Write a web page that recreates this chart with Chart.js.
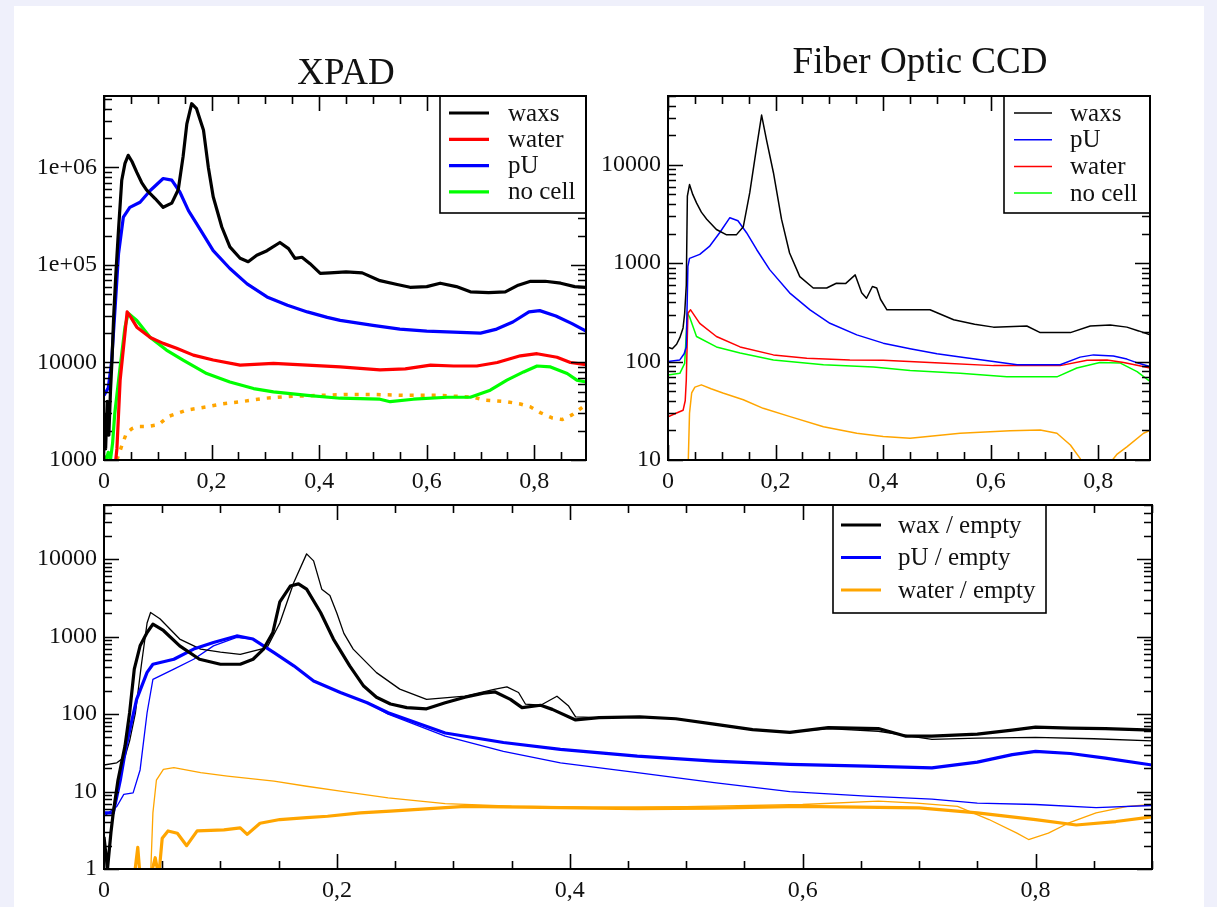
<!DOCTYPE html>
<html>
<head>
<meta charset="utf-8">
<title>XPAD / Fiber Optic CCD</title>
<script src="https://cdn.jsdelivr.net/npm/chart.js@4.4.1/dist/chart.umd.min.js"></script>
<style>
  body { margin: 0; background: #eff0fb; width: 1217px; height: 907px; overflow: hidden; position: relative; }
  #sheet { position: absolute; left: 14px; top: 6px; width: 1190px; height: 901px; background: #fff; }
  canvas { position: absolute; }
</style>
</head>
<body>
<div id="sheet"></div>
<canvas id="xpad" width="608" height="500" style="left:0;top:0"></canvas>
<canvas id="ccd" width="657" height="500" style="left:560px;top:0"></canvas>
<canvas id="ratio" width="1217" height="427" style="left:0;top:480px"></canvas>
<script>
// tick values and labels
const qTicks = [0, 0.2, 0.4, 0.6, 0.8];
const qTickLabels = ['0', '0,2', '0,4', '0,6', '0,8'];
const xpadTicks = [1e3, 1e4, 1e5, 1e6];
const xpadTickLabels = ['1000', '10000', '1e+05', '1e+06'];
const ccdTicks = [10, 100, 1000, 10000];
const ccdTickLabels = ['10', '100', '1000', '10000'];
const ratioTicks = [1, 10, 100, 1000, 10000];
const ratioTickLabels = ['1', '10', '100', '1000', '10000'];

// XPAD panel
const xpadWaxsQ = [0, 0.003, 0.006, 0.009, 0.012, 0.015, 0.018, 0.022, 0.027, 0.033, 0.039, 0.045, 0.052, 0.061, 0.070, 0.079, 0.095, 0.110, 0.126, 0.138, 0.147, 0.154, 0.163, 0.172, 0.185, 0.194, 0.203, 0.219, 0.234, 0.253, 0.268, 0.284, 0.303, 0.327, 0.343, 0.355, 0.368, 0.383, 0.402, 0.420, 0.450, 0.480, 0.513, 0.545, 0.569, 0.600, 0.625, 0.655, 0.681, 0.715, 0.746, 0.770, 0.793, 0.820, 0.849, 0.875, 0.896];
const xpadWaxs = [3000, 1300, 4000, 1800, 5000, 1.1e4, 3e4, 8e4, 2.3e5, 7.4e5, 1.1e6, 1.33e6, 1.15e6, 8.9e5, 7e5, 5.9e5, 4.8e5, 3.9e5, 4.3e5, 5.9e5, 1.29e6, 2.8e6, 4.5e6, 4e6, 2.4e6, 1e6, 5e5, 2.45e5, 1.53e5, 1.17e5, 1.08e5, 1.26e5, 1.4e5, 1.7e5, 1.47e5, 1.17e5, 1.2e5, 1.03e5, 8.2e4, 8.3e4, 8.5e4, 8.3e4, 6.9e4, 6.3e4, 5.9e4, 6e4, 6.5e4, 6e4, 5.3e4, 5.2e4, 5.3e4, 6.2e4, 6.8e4, 6.8e4, 6.5e4, 6e4, 5.9e4];
const xpadPuQ = [0, 0.008, 0.014, 0.020, 0.027, 0.036, 0.048, 0.067, 0.086, 0.110, 0.126, 0.141, 0.157, 0.179, 0.203, 0.234, 0.266, 0.303, 0.341, 0.378, 0.415, 0.439, 0.500, 0.550, 0.600, 0.650, 0.700, 0.730, 0.760, 0.790, 0.810, 0.840, 0.870, 0.896];
const xpadPu = [4600, 5500, 1e4, 3.2e4, 1.3e5, 3.1e5, 3.9e5, 4.4e5, 5.8e5, 7.7e5, 7.4e5, 5.6e5, 3.6e5, 2.3e5, 1.4e5, 9.2e4, 6.4e4, 4.7e4, 3.86e4, 3.3e4, 2.9e4, 2.7e4, 2.4e4, 2.2e4, 2.1e4, 2.05e4, 2e4, 2.2e4, 2.6e4, 3.3e4, 3.4e4, 3e4, 2.5e4, 2.1e4];
const xpadWaterQ = [0.020, 0.024, 0.030, 0.039, 0.043, 0.050, 0.061, 0.086, 0.110, 0.135, 0.166, 0.203, 0.253, 0.315, 0.378, 0.439, 0.513, 0.560, 0.607, 0.650, 0.693, 0.731, 0.774, 0.805, 0.842, 0.867, 0.896];
const xpadWater = [800, 1300, 6600, 2e4, 3.3e4, 2.9e4, 2.3e4, 1.8e4, 1.57e4, 1.4e4, 1.19e4, 1.06e4, 9400, 9800, 9400, 9000, 8400, 8600, 9400, 9200, 9200, 1e4, 1.17e4, 1.23e4, 1.13e4, 1e4, 9500];
const xpadNoCellQ = [0, 0.004, 0.008, 0.012, 0.016, 0.020, 0.030, 0.039, 0.045, 0.061, 0.086, 0.116, 0.147, 0.191, 0.234, 0.278, 0.315, 0.378, 0.439, 0.513, 0.532, 0.575, 0.638, 0.681, 0.718, 0.749, 0.780, 0.805, 0.830, 0.861, 0.879, 0.896];
const xpadNoCell = [1100, 1000, 1200, 1000, 1500, 3000, 9000, 2.3e4, 3.2e4, 2.7e4, 1.8e4, 1.34e4, 1.06e4, 7700, 6300, 5400, 5000, 4600, 4300, 4200, 3960, 4200, 4400, 4400, 5200, 6600, 8000, 9200, 9000, 7700, 6600, 6300];
const xpadOrangeQ = [0.024, 0.033, 0.042, 0.052, 0.061, 0.080, 0.101, 0.120, 0.154, 0.190, 0.219, 0.260, 0.300, 0.350, 0.400, 0.450, 0.500, 0.563, 0.625, 0.687, 0.709, 0.749, 0.774, 0.793, 0.811, 0.833, 0.852, 0.870, 0.896];
const xpadOrange = [1000, 1400, 1900, 2100, 2200, 2200, 2300, 2800, 3250, 3500, 3750, 4000, 4300, 4500, 4600, 4700, 4700, 4600, 4600, 4400, 4100, 3960, 3750, 3500, 3060, 2700, 2600, 2900, 3700];

// Fiber Optic CCD panel
const ccdWaxsQ = [0, 0.008, 0.016, 0.022, 0.028, 0.031, 0.034, 0.036, 0.040, 0.046, 0.053, 0.062, 0.072, 0.090, 0.109, 0.127, 0.140, 0.152, 0.165, 0.174, 0.183, 0.196, 0.211, 0.226, 0.245, 0.270, 0.295, 0.313, 0.330, 0.348, 0.360, 0.369, 0.380, 0.388, 0.395, 0.407, 0.440, 0.487, 0.531, 0.570, 0.605, 0.667, 0.692, 0.748, 0.785, 0.822, 0.853, 0.875, 0.896];
const ccdWaxs = [140, 135, 150, 175, 220, 310, 600, 4800, 6300, 5000, 4100, 3300, 2800, 2200, 1940, 1940, 2350, 5200, 15500, 32000, 18000, 8300, 2800, 1270, 730, 560, 560, 625, 620, 760, 500, 440, 580, 560, 430, 336, 336, 336, 266, 240, 224, 230, 197, 197, 230, 235, 224, 205, 187];
const ccdPuQ = [0, 0.022, 0.030, 0.034, 0.037, 0.040, 0.059, 0.077, 0.096, 0.115, 0.130, 0.146, 0.165, 0.189, 0.226, 0.264, 0.301, 0.351, 0.400, 0.450, 0.500, 0.550, 0.605, 0.649, 0.729, 0.766, 0.791, 0.828, 0.853, 0.875, 0.896];
const ccdPu = [100, 104, 120, 141, 930, 1120, 1230, 1480, 2040, 2900, 2700, 2040, 1370, 860, 500, 336, 245, 187, 154, 135, 120, 110, 100, 93, 93, 111, 117, 114, 106, 96, 89];
const ccdWaterQ = [0, 0.016, 0.028, 0.032, 0.034, 0.037, 0.042, 0.059, 0.090, 0.134, 0.196, 0.258, 0.338, 0.400, 0.506, 0.605, 0.729, 0.779, 0.816, 0.847, 0.872, 0.896];
const ccdWater = [27.5, 30, 32, 40, 65, 310, 336, 245, 180, 141, 117, 108, 104, 103, 97, 91, 91, 103, 104, 98, 92, 86];
const ccdNoCellQ = [0, 0.022, 0.031, 0.036, 0.040, 0.053, 0.090, 0.134, 0.196, 0.289, 0.382, 0.450, 0.543, 0.630, 0.723, 0.760, 0.803, 0.840, 0.872, 0.896];
const ccdNoCell = [73, 76, 96, 310, 285, 180, 141, 122, 104, 93, 88, 81, 76, 70, 70, 86, 98, 97, 79, 63];
const ccdOrangeQ = [0.037, 0.040, 0.044, 0.050, 0.062, 0.080, 0.102, 0.140, 0.177, 0.227, 0.289, 0.351, 0.400, 0.450, 0.543, 0.636, 0.692, 0.723, 0.748, 0.766, 0.775, 0.790, 0.812, 0.835, 0.853, 0.884, 0.896];
const ccdOrange = [7, 30, 48, 55, 58, 53, 48, 41, 33.5, 27.6, 21.8, 18.7, 17.3, 16.6, 18.7, 19.8, 20.2, 18.7, 14.2, 10.4, 8, null, 8, 11.5, 13.6, 18.7, 20];

// ratio panel: thick = XPAD, thin = CCD
const waxXpadQ = [0, 0.003, 0.006, 0.008, 0.012, 0.018, 0.022, 0.026, 0.031, 0.037, 0.042, 0.051, 0.065, 0.082, 0.100, 0.117, 0.128, 0.137, 0.145, 0.151, 0.160, 0.167, 0.174, 0.186, 0.197, 0.211, 0.223, 0.234, 0.246, 0.260, 0.277, 0.293, 0.310, 0.326, 0.336, 0.349, 0.359, 0.375, 0.385, 0.405, 0.425, 0.460, 0.491, 0.524, 0.557, 0.589, 0.622, 0.665, 0.688, 0.711, 0.750, 0.780, 0.800, 0.830, 0.860, 0.900];
const waxXpad = [2.6, 1, 3, 5.4, 14, 38.5, 104, 380, 760, 1130, 1450, 1200, 760, 510, 440, 440, 510, 690, 1130, 2800, 4500, 4800, 4100, 2050, 930, 420, 230, 165, 135, 121, 117, 140, 165, 186, 193, 155, 121, 130, 115, 84, 90, 92, 87, 74, 63, 58, 67, 65, 52, 52, 55, 62, 68, 66, 65, 62];
const waxCcdQ = [0, 0.011, 0.018, 0.022, 0.027, 0.032, 0.037, 0.040, 0.048, 0.065, 0.083, 0.100, 0.117, 0.128, 0.140, 0.151, 0.163, 0.174, 0.180, 0.187, 0.194, 0.200, 0.206, 0.214, 0.234, 0.254, 0.277, 0.310, 0.336, 0.346, 0.356, 0.362, 0.375, 0.389, 0.399, 0.405, 0.425, 0.460, 0.491, 0.524, 0.557, 0.589, 0.622, 0.665, 0.711, 0.750, 0.800, 0.850, 0.900];
const waxCcd = [22, 23.5, 28, 45, 104, 420, 1500, 2050, 1700, 930, 690, 630, 590, 650, 720, 1500, 5000, 11700, 9500, 4100, 3400, 2000, 1100, 690, 343, 210, 155, 170, 210, 225, 190, 134, 130, 170, 127, 92, 90, 92, 87, 74, 63, 58, 65, 60, 47, 49, 50, 48, 45];
const puXpadQ = [0, 0.008, 0.014, 0.019, 0.028, 0.037, 0.042, 0.060, 0.077, 0.094, 0.114, 0.128, 0.146, 0.163, 0.180, 0.203, 0.226, 0.244, 0.293, 0.343, 0.392, 0.458, 0.524, 0.589, 0.655, 0.711, 0.750, 0.780, 0.800, 0.830, 0.860, 0.900];
const puXpad = [5.3, 5.3, 14, 38.5, 155, 345, 440, 510, 690, 840, 1020, 930, 620, 420, 268, 190, 140, 104, 57, 43, 35, 28.6, 24.7, 22.4, 21.3, 20.2, 24, 30, 33, 31, 27, 22];
const puCcdQ = [0, 0.011, 0.017, 0.025, 0.031, 0.037, 0.042, 0.060, 0.077, 0.094, 0.114, 0.128, 0.146, 0.163, 0.180, 0.203, 0.226, 0.244, 0.293, 0.343, 0.392, 0.458, 0.524, 0.589, 0.655, 0.711, 0.750, 0.800, 0.852, 0.900];
const puCcd = [4.8, 6.4, 9.2, 9.6, 19, 104, 280, 380, 510, 760, 980, 930, 620, 420, 268, 190, 140, 100, 52, 33, 23.5, 17.5, 13, 10, 8.7, 8, 7.1, 6.8, 6.2, 6.6];
const waterXpadQ = [0.026, 0.029, 0.031, 0.034, 0.040, 0.044, 0.047, 0.050, 0.055, 0.063, 0.071, 0.080, 0.103, 0.117, 0.123, 0.134, 0.151, 0.174, 0.192, 0.220, 0.246, 0.310, 0.392, 0.458, 0.524, 0.597, 0.700, 0.750, 0.800, 0.835, 0.869, 0.900];
const waterXpad = [0.8, 1.9, 0.8, 0.9, 0.8, 1.4, 0.8, 2.5, 3.1, 2.9, 2, 3.1, 3.2, 3.4, 2.8, 3.9, 4.35, 4.6, 4.8, 5.3, 5.6, 6.45, 6.2, 6, 6.1, 6.45, 6.15, 5.3, 4.35, 3.7, 4.1, 4.7];
const waterCcdQ = [0.040, 0.042, 0.045, 0.051, 0.060, 0.083, 0.106, 0.146, 0.174, 0.203, 0.244, 0.293, 0.350, 0.420, 0.500, 0.600, 0.665, 0.698, 0.733, 0.760, 0.784, 0.794, 0.811, 0.828, 0.852, 0.879, 0.900];
const waterCcd = [0.8, 5.3, 14, 19.3, 20.3, 17.5, 15.8, 13.6, 11.7, 10.1, 8.3, 7, 6.5, 6.3, 6.4, 6.8, 7.5, 7.1, 6.45, 4.35, 2.9, 2.4, 2.9, 3.9, 5.3, 6.45, 6.8];

const SERIF = "'Liberation Serif', 'Times New Roman', serif";
const tickFont = { family: SERIF, size: 24 };

function series(label, q, v, color, width, extra) {
  return Object.assign({
    label: label,
    data: q.map((x, i) => ({ x: x, y: v[i] })),
    borderColor: color,
    borderWidth: width,
    pointRadius: 0,
    tension: 0,
    borderJoinStyle: 'round',
    spanGaps: false
  }, extra || {});
}

// xmgrace style frame: inward ticks on all four sides, title, boxed legend
const gracePlugin = {
  id: 'grace',
  afterDraw(chart, args, o) {
    const { ctx, chartArea: a } = chart;
    const x = chart.scales.x, y = chart.scales.y;
    ctx.save();
    ctx.strokeStyle = '#000';
    ctx.lineWidth = 1.6;
    ctx.beginPath();
    for (let k = 0; k * 0.05 <= x.max + 1e-9; k++) {
      const px = Math.round(x.getPixelForValue(k * 0.05)) + 0.5;
      const len = k % 4 === 0 ? 15 : 8;
      ctx.moveTo(px, a.bottom); ctx.lineTo(px, a.bottom - len);
      ctx.moveTo(px, a.top); ctx.lineTo(px, a.top + len);
    }
    for (let e = Math.floor(Math.log10(y.min)); e <= Math.ceil(Math.log10(y.max)); e++) {
      for (let m = 1; m < 10; m++) {
        const v = m * Math.pow(10, e);
        if (v < y.min * 0.999 || v > y.max) continue;
        const py = Math.round(y.getPixelForValue(v)) + 0.5;
        const len = m === 1 ? 15 : 8;
        ctx.moveTo(a.left, py); ctx.lineTo(a.left + len, py);
        ctx.moveTo(a.right, py); ctx.lineTo(a.right - len, py);
      }
    }
    ctx.stroke();

    if (o.legend) {
      const L = o.legend;
      ctx.fillStyle = '#fff';
      ctx.fillRect(L.box[0], L.box[1], L.box[2] - L.box[0], L.box[3] - L.box[1]);
      ctx.lineWidth = 1.6;
      ctx.strokeRect(L.box[0], L.box[1], L.box[2] - L.box[0], L.box[3] - L.box[1]);
      ctx.font = '25px ' + SERIF;
      ctx.textBaseline = 'middle';
      ctx.textAlign = 'left';
      L.items.forEach((di, i) => {
        const ds = chart.data.datasets[di];
        const ry = L.rowY + i * L.rowStep;
        ctx.strokeStyle = ds.borderColor;
        ctx.lineWidth = ds.borderWidth;
        ctx.beginPath();
        ctx.moveTo(L.lineX[0], ry); ctx.lineTo(L.lineX[1], ry);
        ctx.stroke();
        ctx.fillStyle = '#111';
        ctx.fillText(ds.label, L.textX, ry + 1);
      });
    }

    ctx.strokeStyle = '#000';
    ctx.lineWidth = 2;
    ctx.strokeRect(a.left, a.top, a.right - a.left, a.bottom - a.top);

    if (o.title) {
      ctx.fillStyle = '#111';
      ctx.font = '37px ' + SERIF;
      ctx.textAlign = 'center';
      ctx.textBaseline = 'alphabetic';
      ctx.fillText(o.title, o.titleX, o.titleY);
    }
    ctx.restore();
  }
};

function makeChart(id, cfg) {
  return new Chart(document.getElementById(id), {
    type: 'line',
    data: { datasets: cfg.datasets },
    options: {
      responsive: false,
      animation: false,
      devicePixelRatio: 1,
      layout: { padding: cfg.padding },
      plugins: { legend: { display: false }, tooltip: { enabled: false }, grace: cfg.grace },
      scales: {
        x: {
          type: 'linear', min: 0, max: cfg.qMax,
          afterBuildTicks: s => { s.ticks = qTicks.map(v => ({ value: v })); },
          afterFit: s => { s.height = cfg.xHeight; },
          ticks: { autoSkip: false, maxRotation: 0, padding: 7, color: '#111', font: tickFont,
                   callback: (v, i) => qTickLabels[i] },
          grid: { display: false, drawTicks: false },
          border: { display: false }
        },
        y: {
          type: 'logarithmic', min: cfg.yMin, max: cfg.yMax,
          afterBuildTicks: s => { s.ticks = cfg.yTicks.map(v => ({ value: v })); },
          afterFit: s => { s.width = cfg.yWidth; },
          ticks: { autoSkip: false, padding: 7, color: '#111', font: tickFont,
                   callback: (v, i) => cfg.yLabels[i] },
          grid: { display: false, drawTicks: false },
          border: { display: false }
        }
      }
    },
    plugins: [gracePlugin]
  });
}

makeChart('xpad', {
  datasets: [
    series('waxs', xpadWaxsQ, xpadWaxs, '#000000', 3.2),
    series('water', xpadWaterQ, xpadWater, '#ff0000', 3.2),
    series('pU', xpadPuQ, xpadPu, '#0000ff', 3.2),
    series('no cell', xpadNoCellQ, xpadNoCell, '#00ff00', 3.2),
    series('water / empty', xpadOrangeQ, xpadOrange, '#ffa500', 3.5, { borderDash: [4, 7], borderCapStyle: 'butt' })
  ],
  padding: { top: 96, right: 22, left: 0, bottom: 0 },
  qMax: 0.896, xHeight: 40, yWidth: 104,
  yMin: 1000, yMax: 5.4e6, yTicks: xpadTicks, yLabels: xpadTickLabels,
  grace: {
    title: 'XPAD', titleX: 346, titleY: 84,
    legend: { box: [440, 96, 586, 213], lineX: [449, 489], textX: 508, rowY: 113, rowStep: 26.3, items: [0, 1, 2, 3] }
  }
});

makeChart('ccd', {
  datasets: [
    series('waxs', ccdWaxsQ, ccdWaxs, '#000000', 1.5),
    series('pU', ccdPuQ, ccdPu, '#0000ff', 1.5),
    series('water', ccdWaterQ, ccdWater, '#ff0000', 1.5),
    series('no cell', ccdNoCellQ, ccdNoCell, '#00ff00', 1.5),
    series('water / empty', ccdOrangeQ, ccdOrange, '#ffa500', 1.5)
  ],
  padding: { top: 96, right: 67, left: 0, bottom: 0 },
  qMax: 0.896, xHeight: 40, yWidth: 108,
  yMin: 10, yMax: 5e4, yTicks: ccdTicks, yLabels: ccdTickLabels,
  grace: {
    title: 'Fiber Optic CCD', titleX: 360, titleY: 73,
    legend: { box: [444, 96, 590, 213], lineX: [454, 492], textX: 510, rowY: 113, rowStep: 26.7, items: [0, 1, 2, 3] }
  }
});

makeChart('ratio', {
  datasets: [
    series('wax / empty', waxXpadQ, waxXpad, '#000000', 3.2),
    series('pU / empty', puXpadQ, puXpad, '#0000ff', 3.2),
    series('water / empty', waterXpadQ, waterXpad, '#ffa500', 3.2),
    series('wax / empty (CCD)', waxCcdQ, waxCcd, '#000000', 1.3),
    series('pU / empty (CCD)', puCcdQ, puCcd, '#0000ff', 1.3),
    series('water / empty (CCD)', waterCcdQ, waterCcd, '#ffa500', 1.3)
  ],
  padding: { top: 25, right: 65, left: 0, bottom: 0 },
  qMax: 0.9, xHeight: 38, yWidth: 104,
  yMin: 1, yMax: 5e4, yTicks: ratioTicks, yLabels: ratioTickLabels,
  grace: {
    legend: { box: [833, 25, 1046, 133], lineX: [841, 881], textX: 898, rowY: 45, rowStep: 32.5, items: [0, 1, 2] }
  }
});
</script>
</body>
</html>
